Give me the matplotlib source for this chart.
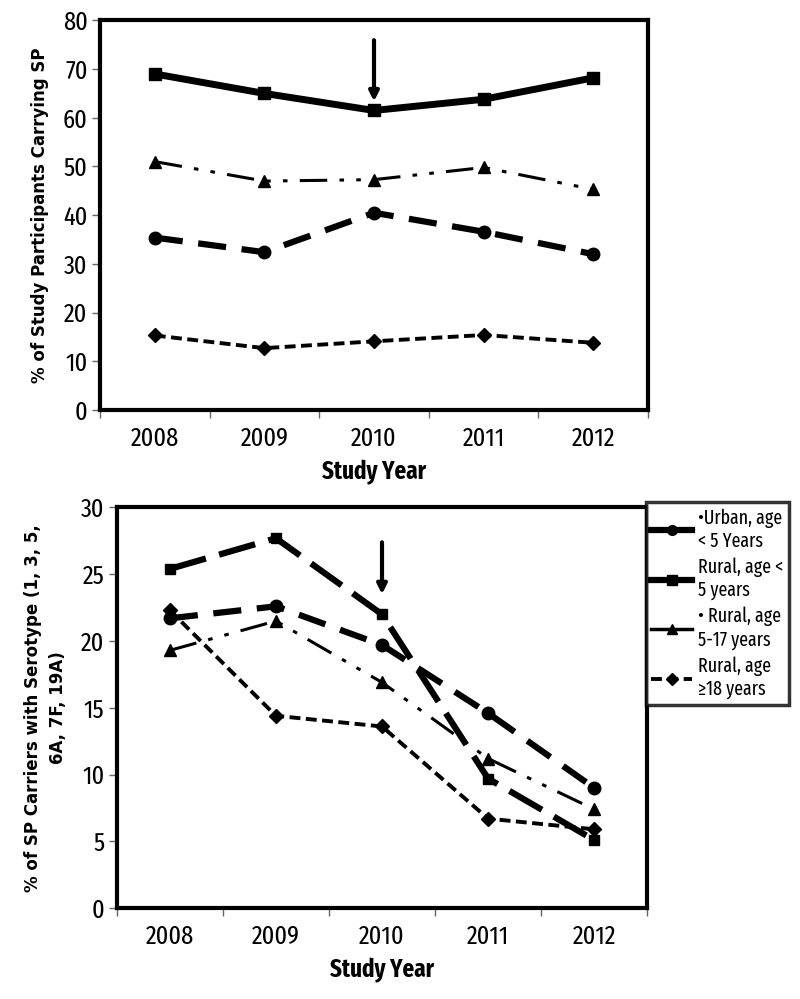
import matplotlib.pyplot as plt
from matplotlib.lines import Line2D
import numpy as np

years = ["2008", "2009", "2010", "2011", "2012"]

# top panel: % of participants carrying SP
top_urban_u5 = [35.4, 32.4, 40.5, 36.6, 32.0]
top_rural_u5 = [69.0, 65.0, 61.5, 63.8, 68.2]
top_rural_5_17 = [51.0, 47.0, 47.3, 49.8, 45.3]
top_rural_18 = [15.3, 12.7, 14.1, 15.4, 13.8]

# bottom panel: % of SP carriers with serotype 1, 3, 5, 6A, 7F, 19A
bot_urban_u5 = [21.7, 22.6, 19.7, 14.6, 9.0]
bot_rural_u5 = [25.4, 27.7, 22.0, 9.7, 5.1]
bot_rural_5_17 = [19.3, 21.5, 16.9, 11.2, 7.4]
bot_rural_18 = [22.3, 14.4, 13.6, 6.7, 5.9]

legend_labels = ["\u2022Urban, age\n< 5 Years", "Rural, age <\n5 years",
                 "\u2022 Rural, age\n5-17 years", "Rural, age\n\u226518 years"]

tick_font = ["Fira Sans Extra Condensed", "DejaVu Sans"]
x = np.arange(1, len(years) + 1)

fig = plt.figure(figsize=(8, 9.99), dpi=100)
ax1 = fig.add_axes([0.125, 0.5896, 0.685, 0.39])
ax2 = fig.add_axes([0.146, 0.091, 0.663, 0.401])


def style_axes(ax, ymax, ystep, ylabel):
    ax.set_xlim(0.5, len(years) + 0.5)
    ax.set_ylim(0, ymax)
    ax.set_yticks(np.arange(0, ymax + 1, ystep))
    ax.set_xticks(x)
    ax.set_xticklabels(years)
    ax.set_xticks(np.arange(0.5, len(years) + 1, 1), minor=True)
    ax.tick_params(axis="x", which="major", length=0, pad=12)
    ax.tick_params(axis="x", which="minor", length=6, width=1, color="#666666")
    ax.tick_params(axis="y", length=6, width=1, color="#666666", pad=3)
    for lab in ax.get_xticklabels() + ax.get_yticklabels():
        lab.set_fontfamily(tick_font)
        lab.set_fontsize(19)
    for s in ax.spines.values():
        s.set_linewidth(3)
    ax.set_xlabel("Study Year", fontfamily=tick_font, fontweight="bold",
                  fontsize=18, labelpad=6)
    ax.set_ylabel(ylabel, fontfamily="DejaVu Sans", fontweight="bold",
                  fontsize=12, labelpad=10, linespacing=1.5)


def draw(ax, urban, rural_u5, rural_5_17, rural_18, bottom):
    ax.plot(x, urban, color="black", lw=4.5, dashes=(4.5, 2.5),
            marker="o", ms=9, zorder=3)
    if bottom:
        ax.plot(x, rural_u5, color="black", lw=4.5, dashes=(6, 2.2),
                marker="s", ms=7.5, zorder=3)
    else:
        ax.plot(x, rural_u5, color="black", lw=5, marker="s", ms=8,
                zorder=3)
    ax.plot(x, rural_5_17, color="black", lw=2.2,
            dashes=(9, 4, 1.5, 4, 1.5, 4), marker="^", ms=9, zorder=3)
    ax.plot(x, rural_18, color="black", lw=2.8, dashes=(2.8, 1.4),
            marker="D", ms=7, zorder=3)


draw(ax1, top_urban_u5, top_rural_u5, top_rural_5_17, top_rural_18, False)
style_axes(ax1, 80, 10, "% of Study Participants Carrying SP")
ax1.annotate("", xy=(3, 62.8), xytext=(3, 76.5),
             arrowprops=dict(arrowstyle="-|>", color="black", lw=3,
                             mutation_scale=14))

draw(ax2, bot_urban_u5, bot_rural_u5, bot_rural_5_17, bot_rural_18, True)
style_axes(ax2, 30, 5, "% of SP Carriers with Serotype (1, 3, 5,\n6A, 7F, 19A)")
ax2.annotate("", xy=(3, 23.3), xytext=(3, 27.6),
             arrowprops=dict(arrowstyle="-|>", color="black", lw=3,
                             mutation_scale=14))

handles = [
    Line2D([], [], color="black", lw=4.5, marker="o", ms=7),
    Line2D([], [], color="black", lw=4.5, marker="s", ms=6.5),
    Line2D([], [], color="black", lw=2.5, marker="^", ms=7),
    Line2D([], [], color="black", lw=2.8, dashes=(2.8, 1.4), marker="D", ms=6),
]
leg = fig.legend(handles, legend_labels, loc="upper left",
                 bbox_to_anchor=(0.807, 0.497), frameon=True, fancybox=False,
                 prop={"family": tick_font, "size": 14}, handlelength=2.1,
                 handletextpad=0.3, labelspacing=0.35, borderpad=0.3,
                 borderaxespad=0)
leg.get_frame().set_edgecolor("black")
leg.get_frame().set_linewidth(2.5)

fig.savefig("out.png", dpi=100)
